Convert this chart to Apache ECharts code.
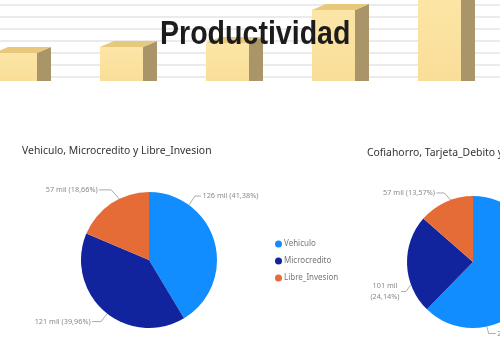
<!DOCTYPE html>
<html><head><meta charset="utf-8">
<script src="https://cdn.jsdelivr.net/npm/echarts@6/dist/echarts.min.js"></script>
<style>html,body{margin:0;padding:0;background:#fff}#c{width:500px;height:350px}</style>
</head><body><div id="c"></div>
<script>
// Decorative banner bars (heights in banner units)
const bannerPositions = [0, 1, 2, 3, 4];
const bannerValues = [24, 30, 34, 67, 80];

const categories = ['Vehiculo', 'Microcredito', 'Libre_Invesion'];
const pie1Amounts = [126, 121, 57];
const pie1Percents = [41.38, 39.96, 18.66];
const pie2Amounts = [261, 101, 57];
const pie2Percents = [62.29, 24.14, 13.57];

const chart = echarts.init(document.getElementById('c'), null, {renderer: 'canvas'});

function renderBar(params, api) {
  const x = api.value(0), v = api.value(1);
  const top = api.coord([x, v]);
  const base = api.coord([x, -4]);
  const w = api.size([0.406, 0])[0];
  const l = top[0] - w / 2, r = top[0] + w / 2;
  const dx = 14, dy = 6;
  return {
    type: 'group',
    children: [
      {type: 'rect', shape: {x: l, y: top[1], width: r - l, height: base[1] - top[1]},
       style: {fill: new echarts.graphic.LinearGradient(0, 0, 0, 1, [{offset: 0, color: '#FCE5A6'}, {offset: 1, color: '#F9DE98'}])}},
      {type: 'polygon', shape: {points: [[r, top[1]], [r + dx, top[1] - dy], [r + dx, base[1]], [r, base[1]]]},
       style: {fill: '#A99567'}},
      {type: 'polygon', shape: {points: [[l, top[1]], [l + dx, top[1] - dy], [r + dx, top[1] - dy], [r, top[1]]]},
       style: {fill: '#E8C97C'}}
    ]
  };
}

function pieData(amounts, percents, breakIdx) {
  return categories.map((n, i) => {
    const d = {name: n, value: percents[i], amount: amounts[i]};
    if (i === breakIdx) d.label = {width: 34, overflow: 'break', lineHeight: 11};
    return d;
  });
}
function fmt(p) {
  return p.data.amount + ' mil (' + p.data.value.toFixed(2).replace('.', ',') + '%)';
}

// Label placement (Power BI style): [rim angle (deg clockwise from top), vertical shift, diagonal run, horizontal run]
const pie1Center = [149, 260], pie1R = 68;
const pie2Center = [473, 262], pie2R = 66;
const pie1Spots = [[36, -9, 6, 6], [218, 8, 6, 9], [334, -9, 8, 12]];
const pie2Spots = [[168, 7, 2, 7], [250, 7, 5, 5], [340, -7, 6, 8]];

function makeLayout(center, r, spots) {
  return function (p) {
    const s = spots[p.dataIndex];
    const a = s[0] * Math.PI / 180;
    const ax = center[0] + r * Math.sin(a), ay = center[1] - r * Math.cos(a);
    const sg = Math.sin(a) > 0 ? 1 : -1;
    const ey = ay + s[1];
    const ex = ax + sg * s[2];
    const lx = ex + sg * s[3];
    return {
      x: lx + sg * 1.5, y: ey, align: sg > 0 ? 'left' : 'right', verticalAlign: 'middle',
      labelLinePoints: [[ax, ay], [ex, ey], [lx, ey]]
    };
  };
}

const pieLabel = {show: true, formatter: fmt, fontSize: 7.3, color: '#8a8a8a', fontFamily: 'Noto Sans',
                  overflow: 'none', alignTo: 'none', bleedMargin: 0};
const pieLabelLine = {show: true, lineStyle: {color: '#aaa', width: 1}};

chart.setOption({
  animation: false,
  color: ['#118DFF', '#12239E', '#E66C37'],
  graphic: [
    {type: 'text', x: 160, y: 35, scaleX: 0.84, z: 100,
     style: {text: 'Productividad', font: 'bold 34px "Liberation Sans", Arial, sans-serif', fill: '#1c1c1c',
             textAlign: 'left', textVerticalAlign: 'middle'}}
  ],
  title: [
    {text: 'Vehiculo, Microcredito y Libre_Invesion', left: 22, top: 146, padding: 0,
     textStyle: {fontSize: 10.4, fontWeight: 'normal', color: '#333', fontFamily: 'Noto Sans'}},
    {text: 'Cofiahorro, Tarjeta_Debito y Libre_Invesion', left: 367, top: 148, padding: 0,
     textStyle: {fontSize: 10.4, fontWeight: 'normal', color: '#333', fontFamily: 'Noto Sans'}}
  ],
  legend: {
    orient: 'vertical', left: 270, top: 235, icon: 'circle', itemWidth: 7, itemHeight: 7, itemGap: 9,
    textStyle: {fontSize: 8, color: '#777', fontFamily: 'Noto Sans', padding: [0, 0, 0, -3]},
    data: categories
  },
  grid: {left: 0, right: 0, top: 5, height: 72},
  xAxis: {type: 'value', min: -0.146, max: 4.571, show: false},
  yAxis: {type: 'value', min: 0, max: 72, interval: 12,
    axisLine: {show: false}, axisTick: {show: false}, axisLabel: {show: false},
    splitLine: {show: true, lineStyle: {color: '#e4e4e4', width: 1.5}}},
  series: [
    {type: 'custom', renderItem: renderBar, clip: false, silent: true,
     data: bannerPositions.map((p, i) => [p, bannerValues[i]]), z: 1},
    {type: 'pie', name: 'p1', center: pie1Center, radius: pie1R, startAngle: 90, clockwise: true,
     label: pieLabel, labelLine: pieLabelLine, emphasis: {disabled: true},
     labelLayout: makeLayout(pie1Center, pie1R, pie1Spots),
     data: pieData(pie1Amounts, pie1Percents, -1)},
    {type: 'pie', name: 'p2', center: pie2Center, radius: pie2R, startAngle: 90, clockwise: true,
     label: pieLabel, labelLine: pieLabelLine, emphasis: {disabled: true},
     labelLayout: makeLayout(pie2Center, pie2R, pie2Spots),
     data: pieData(pie2Amounts, pie2Percents, 1)}
  ]
});
</script></body></html>
